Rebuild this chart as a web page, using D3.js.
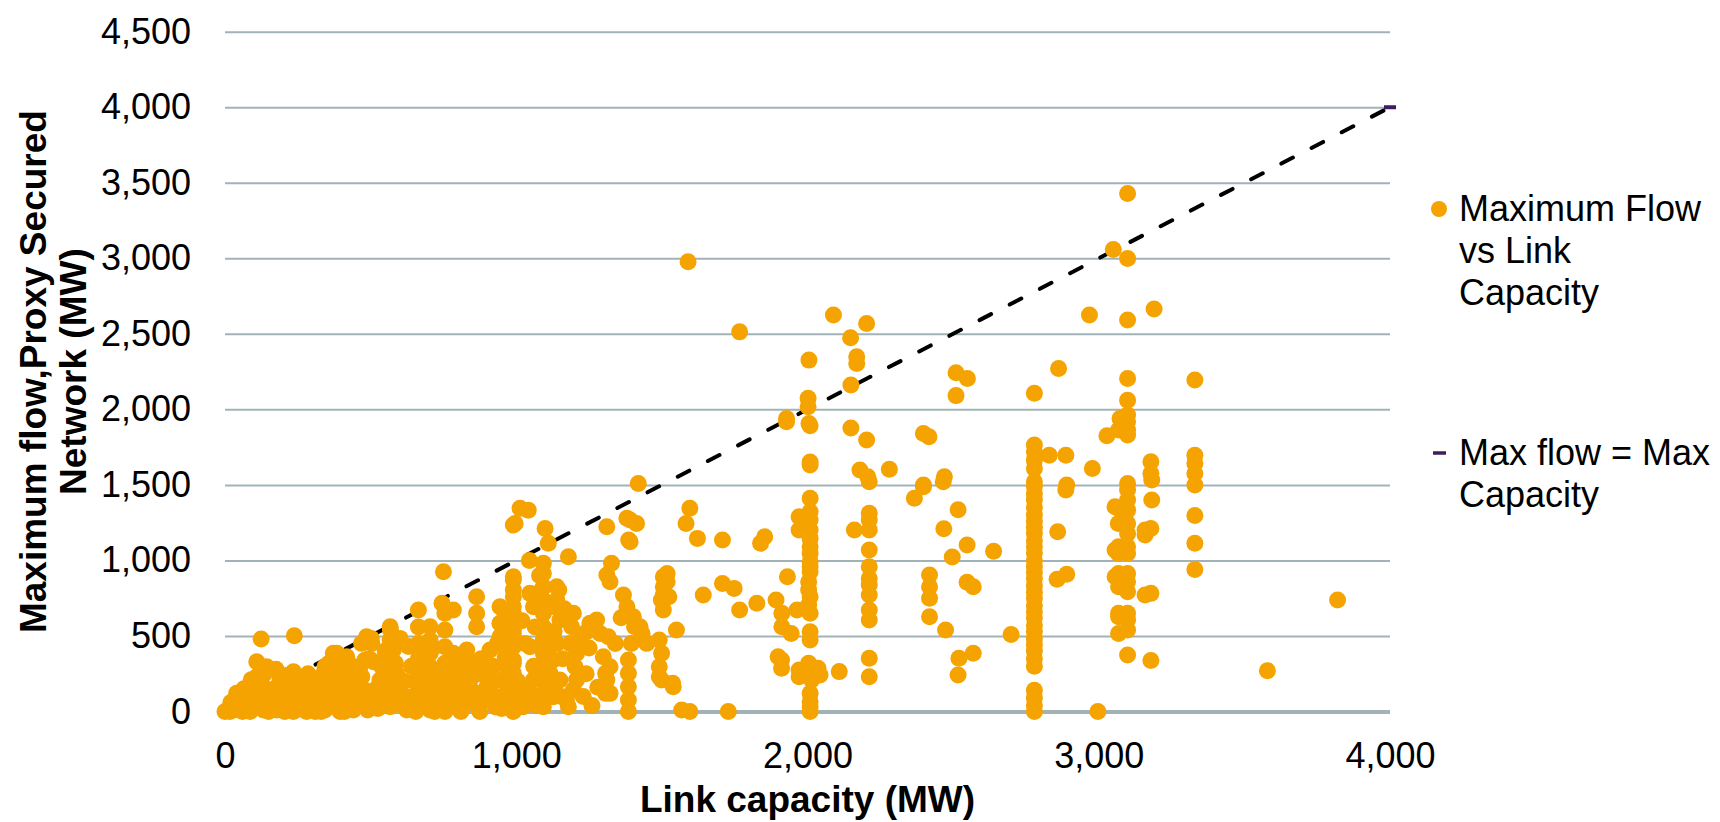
<!DOCTYPE html>
<html>
<head>
<meta charset="utf-8">
<script src="https://cdn.jsdelivr.net/npm/d3@7/dist/d3.min.js"></script>
<style>
  body { margin: 0; background: #ffffff; }
  svg text { font-family: "Liberation Sans", Arial, Helvetica, sans-serif; fill: #000; }
</style>
</head>
<body>
<script>
// ------------------------------------------------------------------
// data: [link capacity (MW), maximum flow (MW)]
// ------------------------------------------------------------------
var band0 = [
  [0,0],[17,0],[20,60],[30,10],[40,120],[45,40],[52,32],[60,0],[65,150],[70,30],[75,76],
  [86,0],[86,164],[90,210],[95,120],[100,40],[100,90],[109,330],[109,230],[109,164],
  [114,220],[120,60],[124,480],[125,100],[132,10],[132,164],[135,250],[140,40],[143,296],
  [150,0],[150,60],[155,120],[160,90],[165,20],[170,150],[175,280],[177,10],[180,50],
  [185,100],[189,208],[195,130],[200,76],[200,150],[205,0],[210,180],[215,240],[220,110],
  [225,40],[230,120],[235,263],[235,0],[238,502],[240,70],[245,200],[250,60],[255,30],
  [258,164],[260,130],[265,20],[269,98],[270,190],[275,60],[280,120],[280,0],[285,250],
  [290,30],[292,164],[292,76],[300,120],[305,210],[310,0],[315,60],[320,160],[325,100],
  [330,0],[335,240],[340,50],[343,296],[343,208],[343,10],[349,120],[355,30],[357,319],
  [360,150],[365,60],[372,385],[372,208],[372,98],[380,160],[384,385],[385,300],[390,40],
  [395,270],[395,0],[400,140],[406,76],[410,0],[418,363],[418,164],[420,250],[425,130],
  [430,310],[435,40],[440,200],[441,10],[450,270],[452,187],[452,98],[460,60],[464,296],
  [469,451],[470,230],[475,100],[480,140],[480,340],[486,495],[490,10],[495,350]
];

var band500 = [
  [502,484],[504,451],[510,330],[515,98],[520,150],[525,20],[532,208],[538,296],[540,60],
  [550,400],[555,120],[567,561],[567,473],[567,385],[567,296],[567,208],[567,120],[567,32],
  [568,539],[578,407],[580,70],[585,320],[590,250],[600,150],[601,484],[610,40],[615,200],
  [624,98],[624,10],[630,430],[640,300],[645,60],[650,200],[655,0],[660,120],[664,672],
  [664,560],[664,450],[664,350],[664,263],[675,187],[680,40],[690,350],[690,240],[695,130],
  [704,561],[704,473],[704,385],[704,296],[704,187],[704,98],[704,10],[715,420],[720,250],
  [720,0],[730,160],[730,60],[740,280],[745,716],[750,925],[755,650],[755,539],[755,429],
  [755,319],[755,208],[755,98],[755,0],[760,150],[770,50],[780,250],[784,672],[784,385],
  [790,120],[800,40],[800,200],[810,330],[810,0],[818,253],[825,80],[830,407],[830,164],
  [840,200],[845,330],[850,60],[853,296],[864,760],[864,650],[864,561],[864,120],[870,250],
  [875,0],[880,350],[890,250],[899,164],[900,80],[905,130],[910,407],[920,300],[925,200],
  [930,30],[935,450],[944,584],[944,694],[944,495],[944,98],[950,20],[953,208],[956,672],
  [960,450],[962,363],[965,300],[970,130],[975,250],[980,150],[985,60],[990,1234],
  [990,892],[990,870],[990,804],[990,760],[990,694],[990,650],[990,605],[990,539],
  [990,517],[990,429],[990,341],[990,319],[990,253],[990,208],[990,164],[990,98],[990,76],
  [990,0],[996,1245]
];

var band1000 = [
  [1005,200],[1010,30],[1013,1345],[1020,600],[1024,32],[1030,450],[1035,130],[1041,1333],
  [1045,1000],[1047,782],[1047,429],[1047,120],[1059,694],[1059,208],[1060,300],[1065,560],
  [1070,40],[1075,250],[1080,900],[1087,804],[1093,981],[1093,914],[1093,826],[1093,738],
  [1093,650],[1093,561],[1093,473],[1093,385],[1093,296],[1093,208],[1093,120],[1093,32],
  [1099,1212],[1105,150],[1110,1113],[1110,420],[1116,253],[1120,694],[1127,341],[1127,164],
  [1127,98],[1130,530],[1139,826],[1139,738],[1140,450],[1146,804],[1150,605],[1150,208],
  [1155,100],[1160,350],[1165,680],[1172,76],[1179,1025],[1179,32],[1185,450],[1190,561],
  [1196,650],[1196,142],[1202,296],[1207,385],[1207,208],[1219,473],[1230,100],[1240,250],
  [1242,528],[1250,420],[1253,584],[1260,40],[1276,605],[1280,160],[1288,517],[1299,363],
  [1307,253],[1307,120],[1311,1223],[1311,903],[1311,208],[1316,495],[1322,859],[1322,296],
  [1322,120],[1327,981],[1340,450],[1360,620],[1368,771],[1380,1279],[1380,694],[1385,341],
  [1385,253],[1385,164],[1385,76],[1385,0],[1386,1135],[1391,1267],[1391,1124],[1395,450],
  [1402,627],[1406,561],[1413,1245],[1419,1510],[1425,561],[1432,517],[1448,451],[1491,473],
  [1491,296],[1491,230],[1498,738],[1499,385],[1499,208],[1505,892],[1505,826],[1505,771],
  [1505,672],[1518,914],[1518,859]
];

var band1500 = [
  [1524,760],[1537,187],[1539,164],[1550,539],[1568,10],[1590,2977],[1596,0],[1596,1345],
  [1583,1245],[1622,1146],[1642,771],[1708,1135],[1708,848],[1728,0],[1748,815],[1767,672],
  [1767,2513],[1826,716],[1839,1113],[1853,1157],[1892,738],[1899,363],[1912,650],[1912,561],
  [1911,341],[1911,286],[1928,1940],[1928,1918],[1931,892],[1944,517],[1964,672],[1971,275],
  [1971,230],[1971,1289],[1971,1201]
];

var band2000 = [
  [2005,2326],[2002,2073],[2002,2017],[2009,1891],[2005,1907],[2009,1651],[2009,1631],
  [2009,1411],[2009,1322],[2009,1267],[2009,1201],[2009,1146],[2009,1091],[2009,1047],
  [2009,991],[2009,958],[2009,925],[2004,859],[2004,804],[2009,760],[2004,705],[2009,650],
  [2009,528],[2009,473],[2004,319],[2009,275],[2009,253],[2014,208],[2009,120],[2009,65],
  [2009,32],[2009,0],[2036,286],[2043,242],[2109,264],[2089,2624],[2148,2474],[2161,1201],
  [2149,2161],[2149,1876],[2169,2348],[2169,2304],[2180,1598],[2203,2569],[2203,1797],
  [2207,1554],[2212,1521],[2212,1312],[2212,1267],[2212,1201],[2212,1069],[2212,958],
  [2212,881],[2212,837],[2212,771],[2212,672],[2212,605],[2212,352],[2212,230],[2281,1603],
  [2367,1411],[2398,1488],[2398,1841],[2417,1819],[2398,1499],[2419,903],[2419,826],
  [2419,749],[2419,627],[2466,1521],[2468,1209],[2470,1554],[2474,539],[2497,1022]
];

var band2500 = [
  [2510,2242],[2549,2205],[2510,2091],[2517,1335],[2548,1102],[2520,352],[2569,385],
  [2517,242],[2548,855],[2569,826],[2639,1061],[2699,510],[2779,2106],[2779,1764],
  [2779,1719],[2779,1664],[2779,1609],[2779,1521],[2779,1490],[2779,1440],[2779,1400],
  [2779,1350],[2779,1300],[2779,1260],[2779,1220],[2779,1180],[2779,1130],[2779,1090],
  [2779,1050],[2779,1000],[2779,960],[2779,920],[2779,880],[2779,830],[2779,790],
  [2779,750],[2779,700],[2779,660],[2779,620],[2779,570],[2779,530],[2779,480],[2779,440],
  [2779,400],[2779,350],[2779,300],[2779,140],[2779,90],[2779,40],[2779,0],[2830,1697],
  [2862,2271],[2887,1697],[2890,1499],[2887,1466],[2859,1190],[2857,875],[2890,909],
  [2968,2624],[2978,1609],[2997,0]
];

var band3000 = [
  [3028,1825],[3050,3059],[3056,1355],[3056,1069],[3056,892],[3067,1345],[3067,1245],
  [3067,1047],[3068,1863],[3068,1091],[3068,914],[3068,826],[3068,650],[3068,627],
  [3068,517],[3073,1940],[3099,3429],[3099,2999],[3099,2591],[3099,2205],[3099,2061],
  [3099,1962],[3099,1918],[3099,1863],[3099,1830],[3099,1510],[3099,1466],[3099,1400],
  [3099,1333],[3099,1245],[3099,1179],[3099,1091],[3099,1047],[3099,914],[3099,859],
  [3099,793],[3099,650],[3099,605],[3099,539],[3099,374],[3159,1201],[3159,1168],
  [3159,771],[3182,1400],[3182,1532],[3179,1653],[3179,1576],[3179,1212],[3179,782],
  [3179,338],[3190,2664],[3330,2194],[3330,1697],[3330,1642],[3330,1576],[3330,1499],
  [3330,1297],[3330,1113],[3330,940],[3579,270],[3820,738]
];

// reference line: max flow = max capacity
var refCapacity = [0, 4000];
var refFlow = [0, 4000];

var xTicks = [0, 1000, 2000, 3000, 4000];
var yTicks = [0, 500, 1000, 1500, 2000, 2500, 3000, 3500, 4000, 4500];

var legendDots = ["Maximum Flow", "vs Link", "Capacity"];
var legendLine = ["Max flow = Max", "Capacity"];

// ------------------------------------------------------------------
// layout
// ------------------------------------------------------------------
var width = 1720, height = 822;
var margin = {top: 31.7, right: 330, bottom: 110.5, left: 225};
var plotW = width - margin.left - margin.right,
    plotH = height - margin.top - margin.bottom;

var dotColor = "#f5a300",
    gridColor = "#a2b3b7",
    lineMarker = "#3d1d5c";

var svg = d3.select("body").append("svg")
    .attr("width", width)
    .attr("height", height);

var x = d3.scaleLinear().domain([0, 4000]).range([margin.left, margin.left + plotW]);
var y = d3.scaleLinear().domain([0, 4500]).range([margin.top + plotH, margin.top]);

// y axis + horizontal gridlines
var yAxis = svg.append("g")
    .attr("transform", "translate(" + margin.left + ",0)")
    .call(d3.axisLeft(y)
      .tickValues(yTicks)
      .tickSize(-plotW)
      .tickPadding(34)
      .tickFormat(d3.format(",")));
yAxis.select(".domain").remove();
yAxis.selectAll(".tick line")
    .attr("stroke", gridColor)
    .attr("stroke-width", function(d) { return d === 0 ? 4 : 2; });
yAxis.selectAll(".tick text")
    .attr("font-size", 36)
    .attr("fill", "#000");

// x axis labels (no line, the zero gridline stands in for it)
var xAxis = svg.append("g")
    .attr("transform", "translate(0," + (margin.top + plotH) + ")")
    .call(d3.axisBottom(x)
      .tickValues(xTicks)
      .tickSize(0)
      .tickPadding(31)
      .tickFormat(d3.format(",")));
xAxis.select(".domain").remove();
xAxis.selectAll(".tick text")
    .attr("font-size", 36)
    .attr("fill", "#000");

// axis titles
svg.append("text")
    .attr("x", margin.left + plotW / 2)
    .attr("y", 812)
    .attr("text-anchor", "middle")
    .attr("font-size", 37)
    .attr("font-weight", "bold")
    .text("Link capacity (MW)");

var yTitle = svg.append("text")
    .attr("transform", "translate(46," + (margin.top + plotH / 2) + ") rotate(-90)")
    .attr("text-anchor", "middle")
    .attr("font-size", 37)
    .attr("font-weight", "bold");
yTitle.append("tspan").attr("x", 0).attr("dy", 0).text("Maximum flow,Proxy Secured");
yTitle.append("tspan").attr("x", 0).attr("dy", 40).text("Network (MW)");

// dashed reference line
var refData = refCapacity.map(function(c, i) { return [c, refFlow[i]]; });
svg.append("path")
    .datum(refData)
    .attr("fill", "none")
    .attr("stroke", "#000")
    .attr("stroke-width", 4)
    .attr("stroke-dasharray", "13,21")
    .attr("stroke-linecap", "round")
    .attr("d", d3.line().x(function(d) { return x(d[0]); }).y(function(d) { return y(d[1]); }));

// small purple markers at the ends of the reference series
svg.selectAll("path.refmark")
    .data(refData)
  .enter().append("path")
    .attr("class", "refmark")
    .attr("stroke", lineMarker)
    .attr("stroke-width", 4)
    .attr("d", function(d) { return "M" + (x(d[0]) - 6) + "," + y(d[1]) + "h12"; });

// scatter dots
var points = band0.concat(band500, band1000, band1500, band2000, band2500, band3000);
svg.append("g")
  .selectAll("circle")
    .data(points)
  .enter().append("circle")
    .attr("cx", function(d) { return x(d[0]); })
    .attr("cy", function(d) { return y(d[1]); })
    .attr("r", 8.5)
    .attr("fill", dotColor);

// ------------------------------------------------------------------
// legend
// ------------------------------------------------------------------
var legend = svg.append("g");
legend.append("circle")
    .attr("cx", 1439).attr("cy", 209)
    .attr("r", 8)
    .attr("fill", dotColor);
legend.selectAll("text.l1")
    .data(legendDots)
  .enter().append("text")
    .attr("class", "l1")
    .attr("x", 1459)
    .attr("y", function(d, i) { return 221 + i * 42; })
    .attr("font-size", 36)
    .text(function(d) { return d; });

legend.append("path")
    .attr("d", "M1433,453h13")
    .attr("stroke", lineMarker)
    .attr("stroke-width", 3.5);
legend.selectAll("text.l2")
    .data(legendLine)
  .enter().append("text")
    .attr("class", "l2")
    .attr("x", 1459)
    .attr("y", function(d, i) { return 465 + i * 42; })
    .attr("font-size", 36)
    .text(function(d) { return d; });
</script>
</body>
</html>
